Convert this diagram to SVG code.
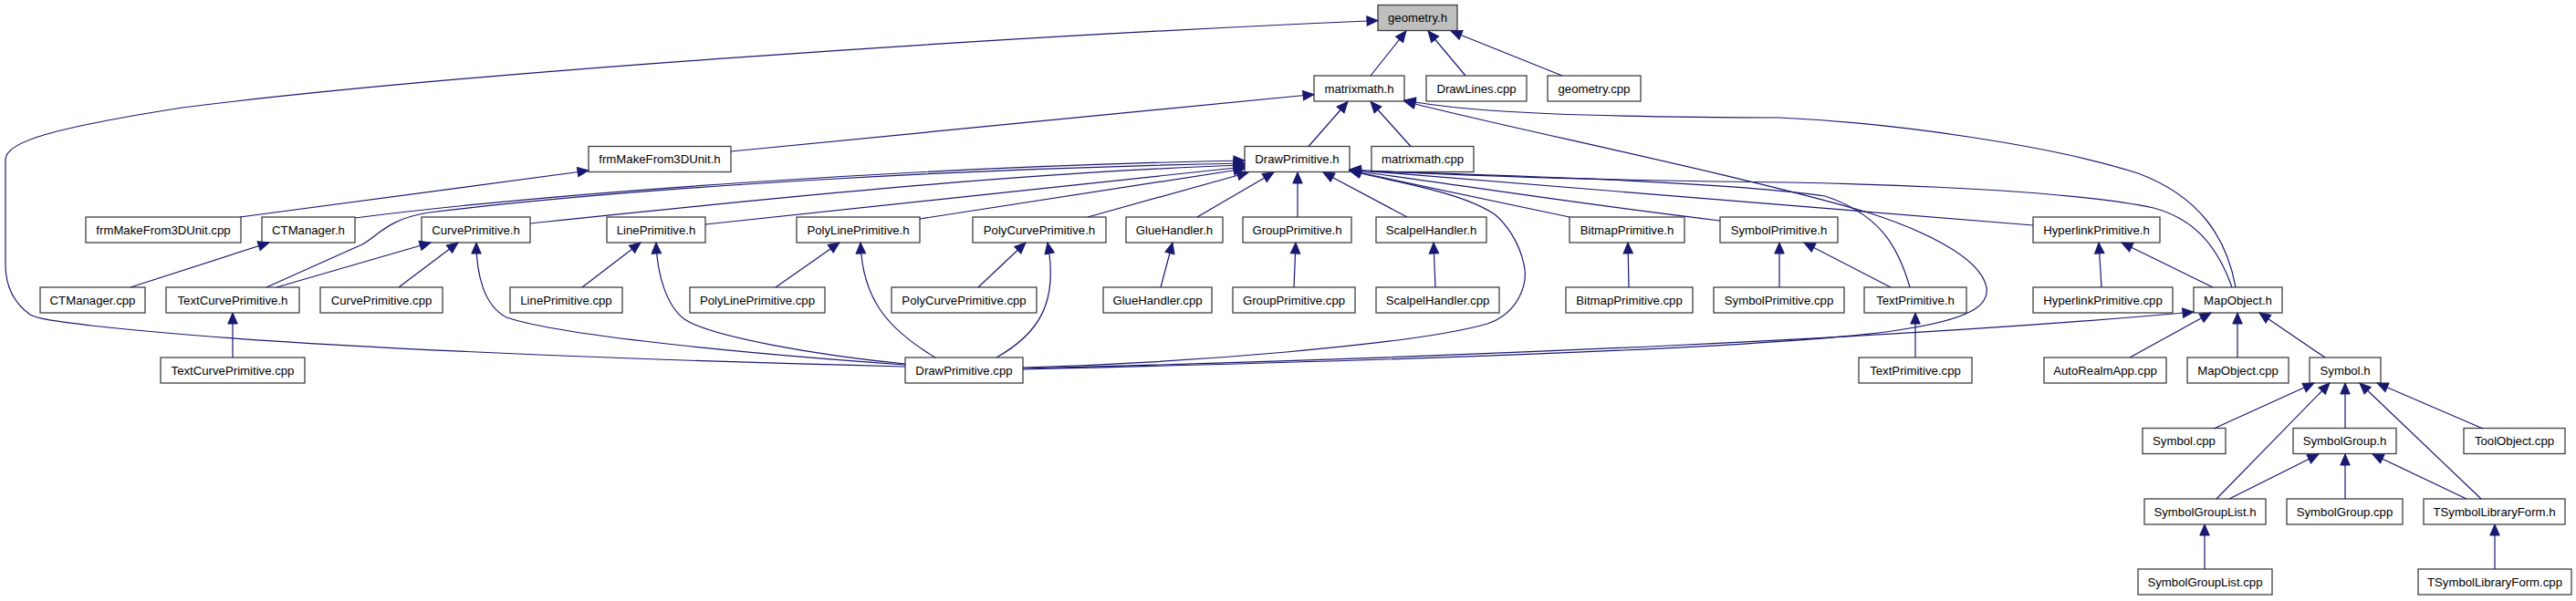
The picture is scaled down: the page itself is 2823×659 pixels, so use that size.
<svg xmlns="http://www.w3.org/2000/svg" width="2823" height="659" viewBox="0 0 2823 659">
<defs>
<marker id="ah" markerUnits="userSpaceOnUse" markerWidth="13" markerHeight="12" refX="12" refY="5.25" orient="auto" overflow="visible"><path d="M0,0 L12,5.25 L0,10.5 z" fill="#191970" stroke="#191970" stroke-width="1"/></marker>
</defs>
<style>
.n rect{fill:#fff;stroke:#404040;stroke-width:1.3}
.n text{font-family:"Liberation Sans",Arial,sans-serif;font-size:13.2px;text-anchor:middle;fill:#000}
#edges path{fill:none;stroke:#191970;stroke-width:1.2;marker-end:url(#ah)}
</style>
<rect width="2823" height="659" fill="#fff"/>
<g id="nodes">
<g class="n" id="n_geometry_h"><rect x="1510" y="5.5" width="87" height="28" style="fill:#bfbfbf"/><text x="1553.5" y="24">geometry.h</text></g>
<g class="n" id="n_matrixmath_h"><rect x="1440" y="83" width="99" height="28"/><text x="1489.5" y="101.5">matrixmath.h</text></g>
<g class="n" id="n_DrawLines_cpp"><rect x="1563" y="83" width="110" height="28"/><text x="1618" y="101.5">DrawLines.cpp</text></g>
<g class="n" id="n_geometry_cpp"><rect x="1696" y="83" width="102" height="28"/><text x="1747" y="101.5">geometry.cpp</text></g>
<g class="n" id="n_frmMakeFrom3DUnit_h"><rect x="645" y="160.5" width="156" height="28"/><text x="723" y="179">frmMakeFrom3DUnit.h</text></g>
<g class="n" id="n_DrawPrimitive_h"><rect x="1364" y="160.5" width="115" height="28"/><text x="1421.5" y="179">DrawPrimitive.h</text></g>
<g class="n" id="n_matrixmath_cpp"><rect x="1503" y="160.5" width="112" height="28"/><text x="1559" y="179">matrixmath.cpp</text></g>
<g class="n" id="n_frmMakeFrom3DUnit_cpp"><rect x="94" y="238" width="170" height="28"/><text x="179" y="256.5">frmMakeFrom3DUnit.cpp</text></g>
<g class="n" id="n_CTManager_h"><rect x="287" y="238" width="102" height="28"/><text x="338" y="256.5">CTManager.h</text></g>
<g class="n" id="n_CurvePrimitive_h"><rect x="462" y="238" width="119" height="28"/><text x="521.5" y="256.5">CurvePrimitive.h</text></g>
<g class="n" id="n_LinePrimitive_h"><rect x="665" y="238" width="108" height="28"/><text x="719" y="256.5">LinePrimitive.h</text></g>
<g class="n" id="n_PolyLinePrimitive_h"><rect x="873" y="238" width="135" height="28"/><text x="940.5" y="256.5">PolyLinePrimitive.h</text></g>
<g class="n" id="n_PolyCurvePrimitive_h"><rect x="1066" y="238" width="146" height="28"/><text x="1139" y="256.5">PolyCurvePrimitive.h</text></g>
<g class="n" id="n_GlueHandler_h"><rect x="1234" y="238" width="106" height="28"/><text x="1287" y="256.5">GlueHandler.h</text></g>
<g class="n" id="n_GroupPrimitive_h"><rect x="1362" y="238" width="119" height="28"/><text x="1421.5" y="256.5">GroupPrimitive.h</text></g>
<g class="n" id="n_ScalpelHandler_h"><rect x="1508" y="238" width="121" height="28"/><text x="1568.5" y="256.5">ScalpelHandler.h</text></g>
<g class="n" id="n_BitmapPrimitive_h"><rect x="1720" y="238" width="126" height="28"/><text x="1783" y="256.5">BitmapPrimitive.h</text></g>
<g class="n" id="n_SymbolPrimitive_h"><rect x="1885" y="238" width="129" height="28"/><text x="1949.5" y="256.5">SymbolPrimitive.h</text></g>
<g class="n" id="n_HyperlinkPrimitive_h"><rect x="2228" y="238" width="139" height="28"/><text x="2297.5" y="256.5">HyperlinkPrimitive.h</text></g>
<g class="n" id="n_CTManager_cpp"><rect x="44" y="315" width="115" height="28"/><text x="101.5" y="333.5">CTManager.cpp</text></g>
<g class="n" id="n_TextCurvePrimitive_h"><rect x="182" y="315" width="146" height="28"/><text x="255" y="333.5">TextCurvePrimitive.h</text></g>
<g class="n" id="n_CurvePrimitive_cpp"><rect x="351" y="315" width="134" height="28"/><text x="418" y="333.5">CurvePrimitive.cpp</text></g>
<g class="n" id="n_LinePrimitive_cpp"><rect x="559" y="315" width="123" height="28"/><text x="620.5" y="333.5">LinePrimitive.cpp</text></g>
<g class="n" id="n_PolyLinePrimitive_cpp"><rect x="756" y="315" width="148" height="28"/><text x="830" y="333.5">PolyLinePrimitive.cpp</text></g>
<g class="n" id="n_PolyCurvePrimitive_cpp"><rect x="977" y="315" width="159" height="28"/><text x="1056.5" y="333.5">PolyCurvePrimitive.cpp</text></g>
<g class="n" id="n_GlueHandler_cpp"><rect x="1209" y="315" width="119" height="28"/><text x="1268.5" y="333.5">GlueHandler.cpp</text></g>
<g class="n" id="n_GroupPrimitive_cpp"><rect x="1351" y="315" width="134" height="28"/><text x="1418" y="333.5">GroupPrimitive.cpp</text></g>
<g class="n" id="n_ScalpelHandler_cpp"><rect x="1508" y="315" width="135" height="28"/><text x="1575.5" y="333.5">ScalpelHandler.cpp</text></g>
<g class="n" id="n_BitmapPrimitive_cpp"><rect x="1716" y="315" width="139" height="28"/><text x="1785.5" y="333.5">BitmapPrimitive.cpp</text></g>
<g class="n" id="n_SymbolPrimitive_cpp"><rect x="1878" y="315" width="143" height="28"/><text x="1949.5" y="333.5">SymbolPrimitive.cpp</text></g>
<g class="n" id="n_TextPrimitive_h"><rect x="2043" y="315" width="112" height="28"/><text x="2099" y="333.5">TextPrimitive.h</text></g>
<g class="n" id="n_HyperlinkPrimitive_cpp"><rect x="2228" y="315" width="153" height="28"/><text x="2304.5" y="333.5">HyperlinkPrimitive.cpp</text></g>
<g class="n" id="n_MapObject_h"><rect x="2404" y="315" width="97" height="28"/><text x="2452.5" y="333.5">MapObject.h</text></g>
<g class="n" id="n_TextCurvePrimitive_cpp"><rect x="176" y="392" width="158" height="28"/><text x="255" y="410.5">TextCurvePrimitive.cpp</text></g>
<g class="n" id="n_DrawPrimitive_cpp"><rect x="992" y="392" width="129" height="28"/><text x="1056.5" y="410.5">DrawPrimitive.cpp</text></g>
<g class="n" id="n_TextPrimitive_cpp"><rect x="2037" y="392" width="124" height="28"/><text x="2099" y="410.5">TextPrimitive.cpp</text></g>
<g class="n" id="n_AutoRealmApp_cpp"><rect x="2240" y="392" width="134" height="28"/><text x="2307" y="410.5">AutoRealmApp.cpp</text></g>
<g class="n" id="n_MapObject_cpp"><rect x="2397" y="392" width="111" height="28"/><text x="2452.5" y="410.5">MapObject.cpp</text></g>
<g class="n" id="n_Symbol_h"><rect x="2531" y="392" width="78" height="28"/><text x="2570" y="410.5">Symbol.h</text></g>
<g class="n" id="n_Symbol_cpp"><rect x="2348" y="469.5" width="91" height="28"/><text x="2393.5" y="488">Symbol.cpp</text></g>
<g class="n" id="n_SymbolGroup_h"><rect x="2513" y="469.5" width="113" height="28"/><text x="2569.5" y="488">SymbolGroup.h</text></g>
<g class="n" id="n_ToolObject_cpp"><rect x="2700" y="469.5" width="111" height="28"/><text x="2755.5" y="488">ToolObject.cpp</text></g>
<g class="n" id="n_SymbolGroupList_h"><rect x="2350" y="547" width="133" height="28"/><text x="2416.5" y="565.5">SymbolGroupList.h</text></g>
<g class="n" id="n_SymbolGroup_cpp"><rect x="2506" y="547" width="127" height="28"/><text x="2569.5" y="565.5">SymbolGroup.cpp</text></g>
<g class="n" id="n_TSymbolLibraryForm_h"><rect x="2656" y="547" width="155" height="28"/><text x="2733.5" y="565.5">TSymbolLibraryForm.h</text></g>
<g class="n" id="n_SymbolGroupList_cpp"><rect x="2343" y="624" width="147" height="28"/><text x="2416.5" y="642.5">SymbolGroupList.cpp</text></g>
<g class="n" id="n_TSymbolLibraryForm_cpp"><rect x="2650" y="624" width="168" height="28"/><text x="2734" y="642.5">TSymbolLibraryForm.cpp</text></g>
</g>
<g id="edges">
<path d="M1502,83 L1541,34"/>
<path d="M1606,83 L1565,34"/>
<path d="M1712,83 L1590,34"/>
<path d="M992,402 C700,395 300,380 100,357 C60,352 42,350 33,345 C15,332 6,315 6,290 L6,175 C6,155 60,140 200,118 C500,80 1100,40 1510,22.5"/>
<path d="M801,166 L1440,103.5"/>
<path d="M1434,160.5 L1477,111.5"/>
<path d="M1546,160.5 L1502,111.5"/>
<path d="M2450,315 C2440,260 2410,215 2343,190 C2250,160 2080,135 1950,129 C1750,128 1620,125 1539,110"/>
<path d="M1121,405 C1500,396 1950,382 2080,362 C2160,350 2180,335 2177,315 C2170,280 2100,250 2047,233 C1900,190 1650,140 1539,111"/>
<path d="M1121,404 C1600,392 2100,370 2404,342"/>
<path d="M1121,403 C1300,398 1550,378 1630,355 C1665,343 1675,310 1670,290 C1665,265 1650,245 1638,235 C1600,210 1530,200 1479,187"/>
<path d="M292,315 L397,268 C415,258 425,240 470,233 C700,205 1050,185 1364,179"/>
<path d="M389,239 C600,212 1000,183 1364,176"/>
<path d="M581,245 C800,222 1100,190 1364,181"/>
<path d="M773,246 L1364,183"/>
<path d="M1008,240 L1364,185"/>
<path d="M1192,238 L1368,189"/>
<path d="M1312,238 L1396,189"/>
<path d="M1422,238 L1422,189"/>
<path d="M1542,238 L1450,189"/>
<path d="M1720,238 L1479,187"/>
<path d="M1885,242 C1700,220 1550,195 1479,187"/>
<path d="M2228,247 L1479,186"/>
<path d="M2093,315 C2080,270 2060,235 2000,215 C1900,200 1650,192 1479,187"/>
<path d="M2446,315 C2430,270 2405,240 2360,228 C2250,205 2000,200 1880,199 C1700,196 1550,190 1479,186"/>
<path d="M2425,315 L2325,266"/>
<path d="M2303,315 L2300,266"/>
<path d="M1950,315 L1950,266"/>
<path d="M2072,315 L1977,266"/>
<path d="M2099,392 L2099,343"/>
<path d="M1785,315 L1784,266"/>
<path d="M1573,315 L1571,266"/>
<path d="M1418,315 L1420,266"/>
<path d="M1272,315 L1285,266"/>
<path d="M1072,315 L1124,266"/>
<path d="M1092,392 C1140,365 1160,330 1148,266"/>
<path d="M850,315 L920,266"/>
<path d="M1025,392 C975,362 945,330 943,266"/>
<path d="M638,315 L702,266"/>
<path d="M992,399 C900,390 780,370 750,350 C730,335 720,300 719,266"/>
<path d="M437,315 L502,266"/>
<path d="M303,315 L472,266"/>
<path d="M992,400 C850,390 620,370 555,348 C530,335 522,300 522,266"/>
<path d="M143,315 L295,266"/>
<path d="M255,392 L255,343"/>
<path d="M263,238 L645,187"/>
<path d="M2334,392 L2423,343"/>
<path d="M2452,392 L2452,343"/>
<path d="M2548,392 L2476,343"/>
<path d="M2426,470 L2536,420"/>
<path d="M2429,547 L2553,420"/>
<path d="M2570,470 L2570,420"/>
<path d="M2719,547 L2586,420"/>
<path d="M2721,470 L2605,420"/>
<path d="M2443,547 L2541,498"/>
<path d="M2570,547 L2570,498"/>
<path d="M2703,547 L2600,498"/>
<path d="M2416,624 L2416,575"/>
<path d="M2734,624 L2734,575"/>
</g>
</svg>
